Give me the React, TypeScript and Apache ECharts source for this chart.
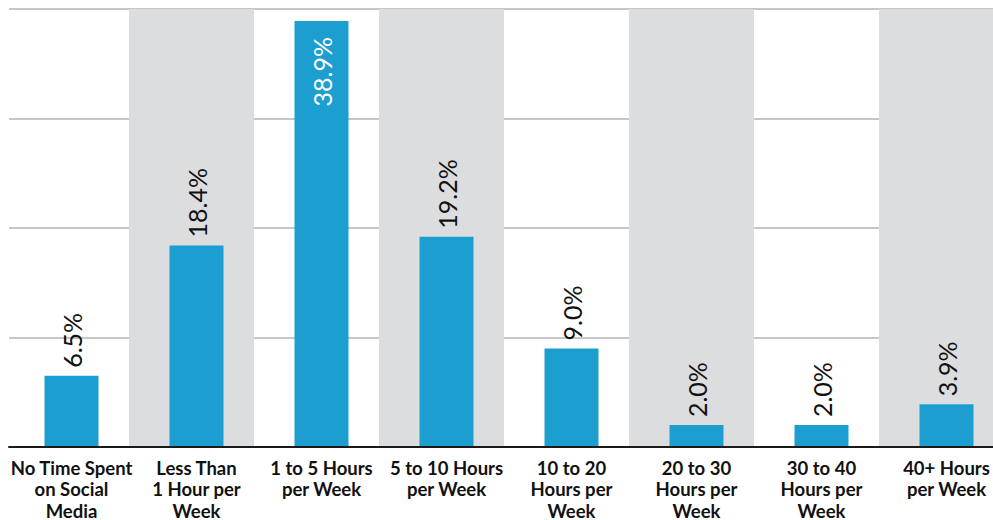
import React, { useEffect, useRef } from "react";
import * as echarts from "echarts";

const categories = [
  "No Time Spent\non Social\nMedia",
  "Less Than\n1 Hour per\nWeek",
  "1 to 5 Hours\nper Week",
  "5 to 10 Hours\nper Week",
  "10 to 20\nHours per\nWeek",
  "20 to 30\nHours per\nWeek",
  "30 to 40\nHours per\nWeek",
  "40+ Hours\nper Week",
];
const values = [6.5, 18.4, 38.9, 19.2, 9.0, 2.0, 2.0, 3.9];
const yTicks = { min: 0, max: 40, interval: 10 };

const BLUE = "#1c9fd0";
const FONT = "Lato, 'Open Sans', sans-serif";

export default function App() {
  const ref = useRef<HTMLDivElement>(null);
  useEffect(() => {
    if (!ref.current) return;
    const chart = echarts.init(ref.current, undefined, { renderer: "svg" });
    const fmt = (p: any) => Number(p.value).toFixed(1) + "%";
    const data = values.map((v) =>
      v > 30
        ? {
            value: v,
            label: {
              position: "insideTop",
              align: "right",
              verticalAlign: "middle",
              distance: 16,
              color: "#ffffff",
            },
          }
        : v
    );
    chart.setOption({
      animation: false,
      grid: [
        { left: 4, top: 9, width: 1000, height: 438, outerBoundsMode: "none", containLabel: false },
        { left: 9, top: 9, width: 1000, height: 438, outerBoundsMode: "none", containLabel: false },
      ],
      xAxis: [
        {
          type: "category",
          gridIndex: 0,
          data: categories,
          boundaryGap: true,
          axisLine: { show: false },
          axisTick: { show: false },
          axisLabel: { show: false },
          splitLine: { show: false },
          splitArea: {
            show: true,
            interval: 0,
            areaStyle: { color: ["rgba(255,255,255,0)", "#dcdddf"] },
          },
        },
        {
          type: "category",
          gridIndex: 1,
          data: categories,
          boundaryGap: true,
          axisLine: { show: true, lineStyle: { color: "#1a1a1a", width: 2 } },
          axisTick: { show: false },
          axisLabel: {
            interval: 0,
            margin: 10,
            color: "#111111",
            fontFamily: FONT,
            fontWeight: "bold",
            fontSize: 18.5,
            lineHeight: 21.5,
            align: "center",
          },
          z: 5,
        },
      ],
      yAxis: [
        {
          type: "value",
          gridIndex: 0,
          ...yTicks,
          axisLine: { show: false },
          axisTick: { show: false },
          axisLabel: { show: false },
          splitLine: { show: false },
        },
        {
          type: "value",
          gridIndex: 1,
          ...yTicks,
          axisLine: { show: false },
          axisTick: { show: false },
          axisLabel: { show: false },
          splitLine: { show: true, lineStyle: { color: "#c6c6c6", width: 2 } },
        },
      ],
      series: [
        {
          type: "bar",
          xAxisIndex: 1,
          yAxisIndex: 1,
          data,
          barWidth: 54,
          itemStyle: { color: BLUE },
          label: {
            show: true,
            position: "top",
            rotate: 90,
            align: "left",
            verticalAlign: "middle",
            distance: 8,
            formatter: fmt,
            color: "#111111",
            fontFamily: FONT,
            fontWeight: "normal",
            fontSize: 25,
          },
        },
      ],
    });
    return () => chart.dispose();
  }, []);
  return (
    <div
      style={{ position: "fixed", left: 0, top: 0, width: 993, height: 520, overflow: "hidden", background: "#ffffff" }}
    >
      <div ref={ref} style={{ width: 1020, height: 520 }} />
    </div>
  );
}
